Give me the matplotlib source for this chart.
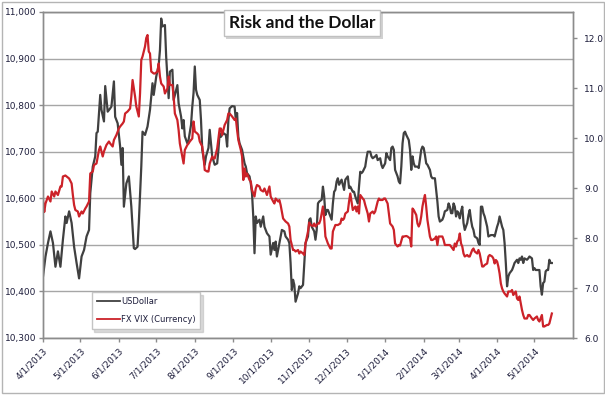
# Risk and the Dollar
# USDollar index (left axis) against FX VIX (Currency) (right axis)
import matplotlib
matplotlib.use('Agg')
import matplotlib.pyplot as plt
import matplotlib.dates as mdates
import matplotlib.ticker as mticker
import matplotlib.patheffects as pe
from matplotlib.patches import Rectangle
import pandas as pd

#===============================================================================
# Data (days counted from start_date)
#===============================================================================
start_date = '2013-04-01'
end_date = '2014-06-01'

usd_days = [0, 1, 2, 4, 6, 8, 9, 10, 12, 14, 16, 18, 19, 21, 23, 25, 27, 29, 31, 33,
            35, 37, 38, 40, 42, 43, 44, 46, 47, 49, 50, 52, 54, 55, 57, 58, 60, 62, 63, 64,
            65, 67, 69, 71, 72, 73, 74, 76, 77, 79, 80, 82, 84, 86, 88, 89, 91, 93, 94, 95,
            96, 98, 99, 100, 101, 102, 104, 105, 107, 108, 109, 111, 112, 113, 114, 116, 117, 119, 120, 121,
            122, 123, 124, 126, 127, 128, 130, 131, 133, 134, 135, 136, 138, 140, 141, 142, 143, 145, 147, 148,
            149, 150, 152, 154, 155, 156, 157, 158, 160, 162, 163, 164, 166, 167, 168, 169, 170, 171, 172, 174,
            175, 177, 178, 179, 180, 182, 183, 185, 186, 187, 188, 189, 191, 192, 194, 195, 197, 198, 199, 200,
            201, 202, 203, 205, 206, 207, 209, 210, 211, 213, 214, 215, 216, 218, 219, 220, 221, 222, 224, 225,
            226, 227, 228, 229, 230, 232, 233, 234, 235, 236, 237, 238, 240, 241, 242, 243, 245, 246, 247, 249,
            250, 251, 253, 254, 255, 256, 257, 259, 260, 261, 263, 264, 265, 267, 268, 269, 271, 272, 273, 275,
            276, 277, 279, 280, 281, 282, 283, 285, 286, 287, 288, 289, 290, 291, 292, 294, 295, 296, 297, 298,
            299, 301, 302, 304, 305, 306, 307, 308, 309, 311, 312, 313, 315, 316, 317, 318, 319, 321, 322, 323,
            325, 326, 327, 328, 329, 330, 331, 332, 333, 334, 335, 336, 337, 338, 339, 341, 342, 343, 344, 345,
            346, 347, 349, 350, 351, 352, 353, 354, 355, 356, 357, 358, 360, 362, 363, 365, 366, 367, 369, 370,
            371, 372, 373, 374, 375, 377, 378, 379, 381, 382, 383, 384, 385, 386, 387, 389, 390, 391, 393, 394,
            395, 396, 398, 399, 400, 401, 402, 403, 404, 405, 406, 407, 408, 409]
usd_values = [10432, 10453, 10475, 10504, 10529, 10504, 10479, 10453, 10486, 10453, 10511, 10561, 10547, 10572, 10547, 10496, 10461, 10428, 10475, 10489,
              10518, 10532, 10611, 10668, 10690, 10740, 10743, 10822, 10790, 10765, 10841, 10786, 10793, 10797, 10851, 10775, 10761, 10711, 10672, 10708,
              10582, 10632, 10647, 10582, 10539, 10493, 10491, 10496, 10547, 10668, 10743, 10736, 10754, 10790, 10847, 10822, 10861, 10886, 10918, 10986,
              10969, 10972, 10904, 10861, 10815, 10872, 10876, 10811, 10833, 10843, 10804, 10775, 10750, 10768, 10733, 10718, 10725, 10758, 10797, 10826,
              10883, 10833, 10822, 10811, 10768, 10704, 10672, 10690, 10708, 10747, 10718, 10690, 10672, 10675, 10704, 10740, 10732, 10740, 10736, 10711,
              10768, 10793, 10798, 10797, 10768, 10783, 10732, 10718, 10704, 10675, 10668, 10654, 10647, 10632, 10611, 10561, 10482, 10561, 10547, 10554,
              10539, 10561, 10539, 10532, 10525, 10518, 10479, 10504, 10489, 10507, 10475, 10489, 10518, 10532, 10529, 10518, 10511, 10504, 10461, 10403,
              10425, 10414, 10378, 10396, 10411, 10407, 10414, 10461, 10504, 10518, 10554, 10557, 10539, 10529, 10511, 10532, 10589, 10593, 10597, 10625,
              10604, 10564, 10575, 10575, 10568, 10554, 10589, 10614, 10618, 10636, 10643, 10629, 10640, 10629, 10618, 10640, 10647, 10622, 10625, 10614,
              10614, 10604, 10589, 10625, 10657, 10654, 10657, 10668, 10686, 10700, 10700, 10690, 10686, 10690, 10693, 10682, 10686, 10672, 10665, 10675,
              10697, 10690, 10682, 10708, 10711, 10704, 10661, 10647, 10636, 10632, 10668, 10718, 10740, 10743, 10736, 10725, 10704, 10661, 10690, 10675,
              10668, 10668, 10665, 10704, 10711, 10708, 10693, 10675, 10672, 10661, 10647, 10643, 10643, 10618, 10593, 10561, 10550, 10554, 10561, 10572,
              10575, 10589, 10582, 10568, 10568, 10589, 10582, 10561, 10572, 10568, 10557, 10572, 10582, 10547, 10532, 10547, 10564, 10575, 10554, 10539,
              10532, 10518, 10514, 10504, 10500, 10582, 10582, 10568, 10561, 10550, 10539, 10518, 10521, 10521, 10518, 10539, 10547, 10561, 10539, 10532,
              10504, 10461, 10411, 10432, 10439, 10446, 10453, 10461, 10468, 10461, 10471, 10468, 10475, 10461, 10471, 10468, 10471, 10475, 10471, 10446,
              10450, 10446, 10446, 10446, 10411, 10393, 10418, 10421, 10443, 10446, 10446, 10468, 10461, 10461]

vix_days = [0, 1, 2, 4, 6, 7, 9, 10, 12, 14, 15, 16, 18, 19, 21, 23, 24, 25, 26, 28,
            29, 31, 32, 34, 35, 37, 38, 40, 41, 43, 45, 46, 48, 49, 51, 53, 54, 56, 57, 59,
            61, 62, 64, 65, 66, 68, 70, 71, 72, 74, 75, 77, 78, 79, 80, 82, 83, 84, 85, 86,
            87, 89, 90, 92, 93, 94, 95, 97, 98, 100, 101, 102, 104, 105, 106, 108, 109, 110, 112, 113,
            114, 116, 117, 118, 120, 121, 122, 124, 125, 126, 128, 129, 130, 132, 133, 134, 136, 137, 138, 140,
            141, 142, 143, 144, 146, 148, 149, 150, 152, 154, 155, 156, 157, 159, 160, 161, 162, 163, 164, 166,
            167, 168, 170, 171, 172, 174, 175, 177, 178, 179, 180, 182, 183, 185, 186, 187, 189, 190, 191, 193,
            194, 195, 197, 198, 199, 201, 202, 203, 205, 206, 207, 209, 210, 211, 213, 214, 215, 217, 218, 219,
            221, 222, 223, 225, 226, 227, 228, 229, 231, 232, 233, 235, 236, 237, 239, 240, 241, 242, 243, 245,
            246, 247, 248, 249, 251, 252, 253, 254, 255, 257, 258, 259, 261, 262, 263, 265, 266, 267, 269, 270,
            271, 273, 274, 275, 277, 278, 279, 281, 282, 283, 285, 286, 287, 289, 290, 292, 293, 295, 296, 297,
            298, 300, 301, 302, 303, 304, 305, 306, 307, 308, 309, 311, 312, 313, 315, 316, 317, 318, 320, 321,
            322, 323, 325, 327, 328, 330, 331, 332, 333, 334, 335, 336, 337, 338, 339, 341, 342, 343, 345, 346,
            347, 349, 350, 351, 353, 354, 355, 357, 358, 359, 361, 362, 363, 364, 365, 366, 367, 368, 369, 370,
            371, 373, 374, 376, 377, 378, 380, 381, 382, 383, 384, 385, 386, 387, 389, 390, 391, 393, 394, 395,
            397, 398, 399, 401, 402, 403, 405, 406, 407, 409]
vix_values = [8.76, 8.52, 8.69, 8.83, 8.73, 8.93, 8.83, 8.93, 8.86, 9.03, 9.03, 9.23, 9.25, 9.23, 9.19, 9.09, 8.86, 8.66, 8.56, 8.53,
              8.43, 8.53, 8.49, 8.59, 8.63, 8.73, 9.29, 9.33, 9.46, 9.49, 9.76, 9.83, 9.63, 9.73, 9.86, 9.93, 9.89, 9.83, 9.96, 10.06,
              10.19, 10.23, 10.29, 10.33, 10.49, 10.53, 10.59, 10.83, 11.16, 10.83, 10.63, 10.43, 10.89, 11.56, 11.63, 11.83, 12.00, 12.06, 11.73, 11.69,
              11.33, 11.29, 11.29, 11.33, 11.49, 11.23, 11.09, 11.03, 10.89, 10.99, 11.23, 11.06, 11.06, 10.83, 10.49, 10.36, 10.16, 9.89, 9.63, 9.49,
              9.76, 9.86, 9.89, 9.93, 9.99, 10.33, 10.13, 10.09, 10.06, 9.93, 9.83, 9.63, 9.36, 9.33, 9.33, 9.49, 9.63, 9.59, 9.59, 9.79,
              9.99, 10.19, 10.19, 10.06, 10.26, 10.36, 10.49, 10.49, 10.43, 10.36, 10.39, 10.16, 9.96, 9.76, 9.63, 9.16, 9.39, 9.23, 9.29, 9.16,
              9.13, 8.96, 8.83, 8.99, 9.06, 9.03, 8.96, 8.93, 8.99, 8.93, 8.86, 9.03, 8.83, 8.73, 8.69, 8.79, 8.73, 8.76, 8.66, 8.39,
              8.36, 8.33, 8.29, 8.23, 7.96, 7.76, 7.76, 7.73, 7.76, 7.69, 7.73, 7.69, 7.66, 7.89, 8.13, 8.31, 8.26, 8.24, 8.29, 8.23,
              8.29, 8.29, 8.36, 8.63, 8.39, 8.03, 7.96, 7.89, 7.79, 7.79, 8.13, 8.26, 8.26, 8.26, 8.29, 8.39, 8.36, 8.39, 8.49, 8.53,
              8.73, 8.89, 8.73, 8.56, 8.63, 8.53, 8.63, 8.49, 8.86, 8.79, 8.76, 8.66, 8.49, 8.33, 8.49, 8.53, 8.49, 8.53, 8.73, 8.79,
              8.76, 8.76, 8.79, 8.79, 8.69, 8.49, 8.29, 8.23, 8.16, 7.89, 7.83, 7.86, 7.85, 8.03, 8.03, 8.04, 8.03, 7.99, 7.83, 8.59,
              8.56, 8.46, 8.29, 8.23, 8.29, 8.43, 8.63, 8.76, 8.86, 8.63, 8.36, 8.03, 7.96, 7.96, 7.99, 8.03, 7.86, 8.03, 8.03, 8.03,
              7.96, 7.86, 7.86, 7.86, 7.83, 7.76, 7.89, 7.83, 7.93, 7.96, 8.09, 7.89, 7.83, 7.69, 7.63, 7.66, 7.63, 7.63, 7.76, 7.79,
              7.73, 7.69, 7.76, 7.69, 7.43, 7.43, 7.46, 7.49, 7.63, 7.66, 7.63, 7.59, 7.49, 7.56, 7.53, 7.43, 7.29, 7.09, 6.99, 6.93,
              6.89, 6.83, 6.93, 6.93, 6.96, 6.86, 6.93, 6.79, 6.76, 6.83, 6.69, 6.56, 6.46, 6.39, 6.39, 6.46, 6.46, 6.39, 6.36, 6.39,
              6.43, 6.36, 6.33, 6.46, 6.23, 6.23, 6.26, 6.26, 6.29, 6.49]

usd_ticks = [10300, 10400, 10500, 10600, 10700, 10800, 10900, 11000]
vix_ticks = [6, 7, 8, 9, 10, 11, 12]
vix_limits = (6, 12.52)

title = 'Risk and the Dollar'
usd_label = 'USDollar'
vix_label = 'FX VIX (Currency)'

#===============================================================================
# Plot
#===============================================================================
W, H = 605, 397
usd_color = '#404040'
vix_color = '#cc2229'
grid_color = '#a6a6a6'
text_color = '#1e1e3c'

start = pd.Timestamp(start_date)
usd_dates = start + pd.to_timedelta(usd_days, unit='D')
vix_dates = start + pd.to_timedelta(vix_days, unit='D')
month_ticks = pd.date_range(start_date, '2014-05-01', freq='MS')

fig = plt.figure(figsize=(W / 100, H / 100), dpi=100)
fig.subplots_adjust(left=43 / W, right=573 / W, bottom=1 - 338 / H, top=1 - 12 / H)
ax = fig.add_subplot(111)
ax2 = ax.twinx()

l1, = ax.plot(usd_dates, usd_values, color=usd_color, lw=1.6, label=usd_label)
l2, = ax2.plot(vix_dates, vix_values, color=vix_color, lw=1.6, label=vix_label)

ax.set_xlim(start, pd.Timestamp(end_date))
ax.set_ylim(usd_ticks[0], usd_ticks[-1])
ax.set_yticks(usd_ticks)
ax.yaxis.set_major_formatter(mticker.FuncFormatter(lambda v, p: '{:,.0f}'.format(v)))
ax2.set_ylim(*vix_limits)
ax2.set_yticks(vix_ticks)
ax2.yaxis.set_major_formatter(mticker.FormatStrFormatter('%.1f'))

ax.set_xticks(month_ticks)
ax.xaxis.set_major_formatter(mticker.FuncFormatter(
    lambda v, p: '{d.month}/{d.day}/{d.year}'.format(d=mdates.num2date(v))))
plt.setp(ax.get_xticklabels(), rotation=45, ha='right', rotation_mode='anchor')

ax.grid(axis='y', color=grid_color, lw=1)
ax.set_axisbelow(True)
for a in (ax, ax2):
    for s in a.spines.values():
        s.set_color('#8c8c8c')
        s.set_linewidth(1)
    a.tick_params(colors='#8c8c8c', labelcolor=text_color, labelsize=6.5, length=3, width=1)
ax.tick_params(axis='y', pad=2)
ax.tick_params(axis='x', pad=3)
ax2.tick_params(axis='y', pad=5)

# legend with both series
leg = ax2.legend([l1, l2], [usd_label, vix_label], loc='lower left',
                 bbox_to_anchor=(0.087, 0.02), fontsize=6, frameon=True, fancybox=False,
                 shadow={'color': '#9a9a9a', 'alpha': 0.35}, edgecolor='#c4c4c4',
                 framealpha=1, handlelength=2.8, labelspacing=1.1, borderpad=0.6,
                 handletextpad=0.1, borderaxespad=0.3)
for t in leg.get_texts():
    t.set_color(text_color)
for h in leg.get_lines():
    h.set_linewidth(1.3)

# title in a box
t = fig.text(302 / W, 1 - 23 / H, title, ha='center', va='center', fontsize=12.5,
             fontweight='bold', family=['Lato', 'DejaVu Sans'], color='#111111',
             bbox=dict(boxstyle='square,pad=0.3', fc='white', ec='#c0c0c0', lw=1))
t.get_bbox_patch().set_path_effects([
    pe.SimplePatchShadow(offset=(2, -2), shadow_rgbFace='#808080', alpha=0.35), pe.Normal()])

# chart area border
fig.patches.append(Rectangle((2 / W, 4 / H), 602 / W, 391 / H, transform=fig.transFigure,
                             fill=False, ec='#b4b4b4', lw=1))

plt.savefig('out.png', dpi=100)
